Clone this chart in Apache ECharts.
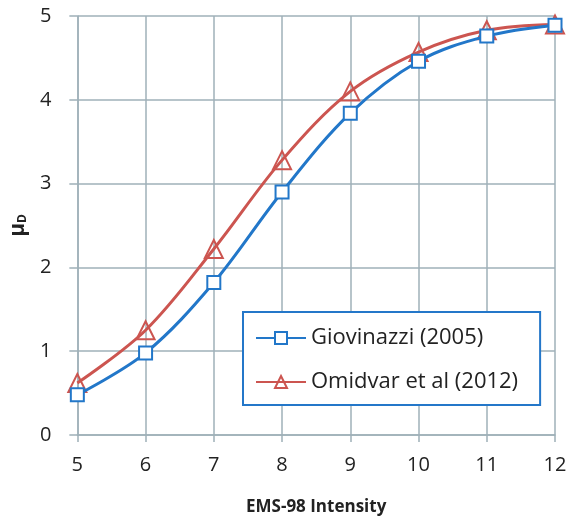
<!DOCTYPE html>
<html lang="en">
<head>
    <meta charset="UTF-8">
    <title>EMS-98</title>
    <script src="https://cdn.jsdelivr.net/npm/echarts@6/dist/echarts.min.js"></script>
</head>
<body style="margin:0">
<div id="main" style="width:575px;height:524px;"></div>
<script>
    var intensity = [5, 6, 7, 8, 9, 10, 11, 12];
    var giovinazzi = [0.48, 0.98, 1.82, 2.9, 3.84, 4.46, 4.76, 4.89];
    var omidvar = [0.62, 1.25, 2.22, 3.28, 4.1, 4.57, 4.83, 4.9];
    var yTicks = [0, 1, 2, 3, 4, 5];

    function pairs(ys) {
        var out = [];
        for (var i = 0; i < intensity.length; i++) {
            out.push([intensity[i], ys[i]]);
        }
        return out;
    }

    var gridColor = '#9fb0b8';
    var chart = echarts.init(document.getElementById('main'));
    var option = {
        animation: false,
        grid: {left: 76, right: 20, top: 16, bottom: 89},
        xAxis: {
            type: 'value', min: 5, max: 12, interval: 1,
            name: 'EMS-98 Intensity', nameLocation: 'middle', nameGap: 64,
            nameTextStyle: {fontFamily: 'Open Sans', fontWeight: 'bold', fontSize: 17, color: '#222'},
            axisLine: {lineStyle: {color: gridColor, width: 1.5}},
            axisTick: {show: true, length: 7, inside: false, lineStyle: {color: gridColor, width: 1.5}},
            axisLabel: {fontFamily: 'Open Sans', fontSize: 20, color: '#222', margin: 20},
            splitLine: {show: true, lineStyle: {color: gridColor, width: 1.5}}
        },
        yAxis: {
            type: 'value', min: 0, max: 5, interval: 1,
            name: '{m|μ}{s|D}', nameLocation: 'middle', nameGap: 48, nameRotate: 90,
            nameTextStyle: {
                rich: {
                    m: {fontFamily: 'Open Sans', fontWeight: 'bold', fontSize: 21, color: '#222'},
                    s: {fontFamily: 'Open Sans', fontWeight: 'bold', fontSize: 12, color: '#222', verticalAlign: 'bottom', padding: [9, 0, 0, 0]}
                }
            },
            axisLine: {show: true, lineStyle: {color: gridColor, width: 1.5}},
            axisTick: {show: true, length: 8, lineStyle: {color: gridColor, width: 1.5}},
            axisLabel: {fontFamily: 'Open Sans', fontSize: 20, color: '#222', margin: 26},
            splitLine: {show: true, lineStyle: {color: gridColor, width: 1.5}}
        },
        legend: {
            left: 243, top: 312,
            orient: 'vertical',
            itemGap: 22, itemWidth: 50, itemHeight: 15,
            padding: [15, 22, 12, 12],
            borderColor: '#2477c9', borderWidth: 2, backgroundColor: '#fff',
            textStyle: {fontFamily: 'Open Sans', fontSize: 22, color: '#222'},
            data: ['Giovinazzi (2005)', 'Omidvar et al (2012)']
        },
        series: [
            {
                name: 'Giovinazzi (2005)', type: 'line', smooth: 0.35,
                data: pairs(giovinazzi),
                symbol: 'rect', symbolSize: 13,
                lineStyle: {color: '#2277c9', width: 3},
                itemStyle: {color: '#fff', borderColor: '#2277c9', borderWidth: 2},
                z: 3
            },
            {
                name: 'Omidvar et al (2012)', type: 'line', smooth: 0.35,
                data: pairs(omidvar),
                symbol: 'triangle', symbolSize: 18,
                lineStyle: {color: '#cc5550', width: 3},
                itemStyle: {color: 'rgba(255,255,255,0)', borderColor: '#cc5550', borderWidth: 2},
                z: 2
            }
        ]
    };
    chart.setOption(option);
</script>
</body>
</html>
